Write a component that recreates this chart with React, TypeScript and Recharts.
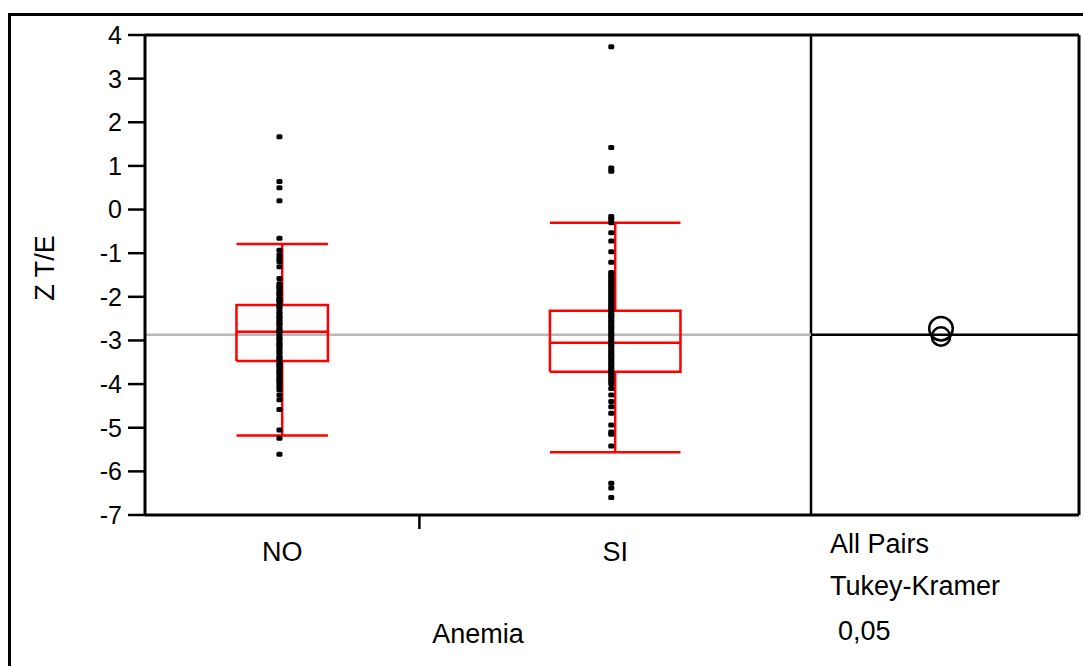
import React from 'react';
import { ComposedChart, Line, Scatter, XAxis, YAxis, ReferenceLine } from 'recharts';

// ---------- data ----------
const groups = ['NO', 'SI'];
const groupWidths = [110, 157]; // proportional x widths of the groups
const yTicks = [4, 3, 2, 1, 0, -1, -2, -3, -4, -5, -6, -7];

const noValues = [
  1.67, 0.64, 0.5, 0.2, -0.66, -0.93, -1.04, -1.12, -1.19, -1.31, -1.58,
  -1.7, -1.76, -1.79, -1.86, -1.92, -1.95, -2.03, -2.08, -2.11, -2.19, -2.22, -2.27,
  -2.35, -2.38, -2.45, -2.49, -2.56, -2.61, -2.64, -2.72, -2.77, -2.8, -2.86, -2.93,
  -2.97, -3.04, -3.09, -3.12, -3.18, -3.25, -3.29, -3.36, -3.41, -3.45, -3.52, -3.57,
  -3.61, -3.68, -3.73, -3.77, -3.84, -3.89, -3.93, -4.0, -4.06,
  -4.13, -4.25, -4.36, -4.58, -5.05, -5.24, -5.61,
];
const siValues = [
  3.73, 1.42, 0.95, 0.88, -0.16, -0.22, -0.3, -0.53, -0.72, -0.97, -1.21, -1.44,
  -1.5, -1.55, -1.61, -1.66, -1.72, -1.77, -1.82, -1.88, -1.93, -1.99, -2.04, -2.1,
  -2.15, -2.2, -2.26, -2.31, -2.37, -2.42, -2.47, -2.53, -2.58, -2.64, -2.69, -2.74,
  -2.8, -2.85, -2.9, -2.96, -3.01, -3.07, -3.12, -3.17, -3.23, -3.28, -3.34, -3.39,
  -3.44, -3.5, -3.55, -3.61, -3.66, -3.71, -3.77, -3.82, -3.88, -3.93, -3.99,
  -4.1, -4.25, -4.4, -4.52, -4.67, -4.94, -5.1, -5.15, -5.42, -6.27, -6.38, -6.6,
];
const groupValues = [noValues, siValues];

const boxQ1 = [-3.47, -3.72];
const boxMedian = [-2.8, -3.05];
const boxQ3 = [-2.19, -2.32];
const whiskerLow = [-5.18, -5.56];
const whiskerHigh = [-0.79, -0.3];

const grandMean = -2.87;
const groupMeans = [-2.73, -2.91];
const circleHalfWidths = [0.27, 0.21];

// ---------- layout ----------
const W = 1083;
const H = 666;
const MARGIN = { top: 35, right: 4, left: 0, bottom: 0 };
const Y_AXIS_W = 145;
const X_AXIS_H = 151;
const PLOT_H = H - MARGIN.top - MARGIN.bottom - X_AXIS_H;
const Y_MIN = -7;
const Y_MAX = 4;
const PANEL_RATIO = 268 / 666;
const FONT = '"Liberation Sans", Arial, sans-serif';

const mainTotal = groupWidths.reduce((a, b) => a + b, 0);
const xMax = mainTotal * (1 + PANEL_RATIO);
const starts = groupWidths.map((_, i) => groupWidths.slice(0, i).reduce((a, b) => a + b, 0));
const centers = groupWidths.map((w, i) => starts[i] + w / 2);
const boundary = starts[1];
const circleX = mainTotal + (xMax - mainTotal) * 0.485;

const pointSeries = groupValues.map((vals, i) =>
  vals.map((v) => ({ x: starts[i] + groupWidths[i] * 0.49, y: v }))
);

const boxSeries = groupWidths.map((w, i) => {
  const b1 = starts[i] + w / 3;
  const b2 = starts[i] + (2 * w) / 3;
  const c = centers[i];
  const gap = { x: c, y: null };
  return [
    { x: b1, y: boxQ1[i] }, { x: b2, y: boxQ1[i] }, { x: b2, y: boxQ3[i] }, { x: b1, y: boxQ3[i] }, { x: b1, y: boxQ1[i] },
    gap,
    { x: b1, y: boxMedian[i] }, { x: b2, y: boxMedian[i] },
    gap,
    { x: c, y: boxQ3[i] }, { x: c, y: whiskerHigh[i] },
    gap,
    { x: b1, y: whiskerHigh[i] }, { x: b2, y: whiskerHigh[i] },
    gap,
    { x: c, y: boxQ1[i] }, { x: c, y: whiskerLow[i] },
    gap,
    { x: b1, y: whiskerLow[i] }, { x: b2, y: whiskerLow[i] },
  ];
});

const meanLineMain = [{ x: 0, y: grandMean }, { x: mainTotal, y: grandMean }];
const meanLinePanel = [{ x: mainTotal, y: grandMean }, { x: xMax, y: grandMean }];
const circleData = groupMeans.map((m, i) => ({ x: circleX, y: m, hw: circleHalfWidths[i] }));

const xTicks = [centers[0], boundary, centers[1]];

const XTick = (props: any) => {
  const { x, y, payload } = props;
  if (payload.value === boundary) {
    return <line x1={x} x2={x} y1={y - 14} y2={y} stroke="#000" strokeWidth={2.5} />;
  }
  const idx = centers.indexOf(payload.value);
  return (
    <text x={x} y={y + 32} textAnchor="middle" fontSize={27} fontFamily={FONT} fill="#000">
      {groups[idx]}
    </text>
  );
};

const Dot = (props: any) => {
  const { cx, cy } = props;
  return <rect x={cx - 3} y={cy - 2.5} width={6} height={5} rx={1.5} fill="#000" />;
};

const Circle = (props: any) => {
  const { cx, cy, payload } = props;
  const r = (payload.hw * PLOT_H) / (Y_MAX - Y_MIN);
  return <circle cx={cx} cy={cy} r={r} fill="none" stroke="#000" strokeWidth={2.5} />;
};

export default function App() {
  return (
    <div style={{ position: 'relative', width: W, height: H, overflow: 'hidden', background: '#fff' }}>
      <style>{`body{margin:0;overflow:hidden;}`}</style>
      <div
        style={{
          position: 'absolute', left: 8, top: 13, width: 1200, height: 800,
          borderLeft: '3px solid #000', borderTop: '3px solid #000',
        }}
      />
      <div style={{ position: 'absolute', left: 0, top: 0 }}>
        <ComposedChart width={W} height={H} margin={MARGIN}>
          <XAxis
            dataKey="x"
            type="number"
            domain={[0, xMax]}
            allowDataOverflow
            ticks={xTicks}
            interval={0}
            tick={<XTick />}
            tickLine={false}
            tickSize={14}
            tickMargin={0}
            height={X_AXIS_H}
            axisLine={{ stroke: '#000', strokeWidth: 3 }}
          />
          <YAxis
            type="number"
            domain={[Y_MIN, Y_MAX]}
            allowDataOverflow
            ticks={yTicks}
            interval={0}
            width={Y_AXIS_W}
            tickSize={17}
            tickMargin={6}
            axisLine={{ stroke: '#000', strokeWidth: 3 }}
            tickLine={{ stroke: '#000', strokeWidth: 2.5 }}
            tick={{ fill: '#000', fontSize: 25, fontFamily: FONT }}
          />
          <ReferenceLine y={Y_MAX} stroke="#000" strokeWidth={3} />
          <ReferenceLine x={xMax} stroke="#000" strokeWidth={3} />
          <ReferenceLine x={mainTotal} stroke="#000" strokeWidth={2.5} />
          <Line data={meanLineMain} dataKey="y" stroke="#b8b8b8" strokeWidth={2.5} dot={false} activeDot={false} isAnimationActive={false} />
          <Line data={meanLinePanel} dataKey="y" stroke="#000" strokeWidth={2.5} dot={false} activeDot={false} isAnimationActive={false} />
          {boxSeries.map((d, i) => (
            <Line key={'box' + i} data={d} dataKey="y" stroke="#ff0000" strokeWidth={2.5} dot={false} activeDot={false} connectNulls={false} isAnimationActive={false} />
          ))}
          {pointSeries.map((d, i) => (
            <Scatter key={'pts' + i} data={d} dataKey="y" shape={<Dot />} isAnimationActive={false} />
          ))}
          <Scatter data={circleData} dataKey="y" shape={<Circle />} isAnimationActive={false} />
        </ComposedChart>
      </div>
      <svg width={W} height={H} style={{ position: 'absolute', left: 0, top: 0, pointerEvents: 'none' }}>
        <text x={45} y={268} transform="rotate(-90 45 268)" textAnchor="middle" dominantBaseline="central" fontSize={27} fontFamily={FONT} fill="#000">Z T/E</text>
        <text x={478} y={643} textAnchor="middle" fontSize={27} fontFamily={FONT} fill="#000">Anemia</text>
        <text x={830} y={553} fontSize={27} fontFamily={FONT} fill="#000">All Pairs</text>
        <text x={830} y={595} fontSize={27} fontFamily={FONT} fill="#000">Tukey-Kramer</text>
        <text x={838} y={640} fontSize={27} fontFamily={FONT} fill="#000">0,05</text>
      </svg>
    </div>
  );
}
